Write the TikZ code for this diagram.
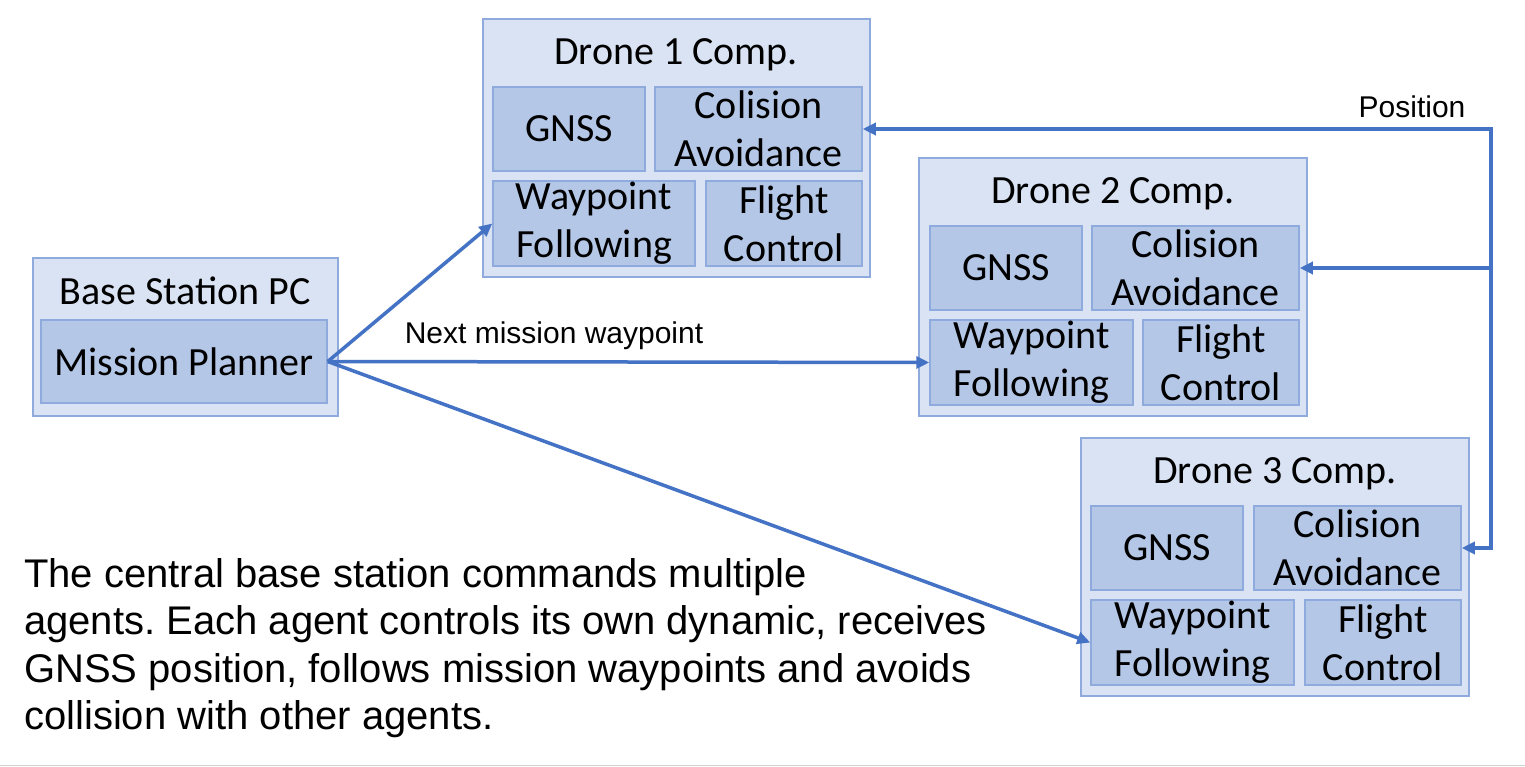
\documentclass[tikz,border=0pt]{standalone}
\usepackage{fontspec}
\setmainfont{Carlito}
\newfontfamily\arial{Liberation Sans}
\usetikzlibrary{arrows.meta,calc}
\definecolor{outerfill}{HTML}{DAE3F3}
\definecolor{innerfill}{HTML}{B4C7E7}
\definecolor{boxline}{HTML}{8FAADC}
\definecolor{arrblue}{HTML}{4472C4}
\tikzset{
  outerbox/.style={draw=boxline,fill=outerfill,line width=1.5pt,inner sep=0pt},
  innerbox/.style={draw=boxline,fill=innerfill,line width=1.5pt,inner sep=0pt,
     align=center,font=\fontsize{40}{48}\selectfont},
  titletext/.style={font=\fontsize{40}{48}\selectfont,inner sep=0pt},
  labeltext/.style={font=\arial\fontsize{30}{36}\selectfont,inner sep=0pt},
  conn/.style={draw=arrblue,line width=3.5pt},
  arr/.style={conn,-{Triangle[length=13pt,width=12pt]}},
}
% \bx{name}{x1}{y1}{x2}{y2}{style}{text}
\newcommand{\bx}[7]{%
  \node[#6,minimum width={(#4-#2)*1pt},minimum height={(#5-#3)*1pt}]
    (#1) at ({(#2+#4)/2},{(#3+#5)/2}) {#7};}
\begin{document}
\begin{tikzpicture}[x=1pt,y=-1pt]
\useasboundingbox (0,0) rectangle (1525,767);
\fill[white] (0,0) rectangle (1525,767);
\draw[black!18,line width=1.5pt] (0,765.5) -- (1525,765.5);

% Base station
\bx{bs}{33}{258}{338}{416}{outerbox}{}
\node[titletext] (bst) at (185,291) {Base Station PC};
\bx{mp}{41}{320}{327}{403}{innerbox}{Mission Planner}

% Drone 1
\bx{d1}{483}{19}{870}{277}{outerbox}{}
\node[titletext] (d1t) at (676,55) {Drone 1 Comp.};
\bx{d1g}{493}{87}{645}{171}{innerbox}{GNSS}
\bx{d1ca}{655}{87}{862}{171}{innerbox}{Colision\\Avoidance}
\bx{d1wf}{493}{181}{695}{266}{innerbox}{Waypoint\\Following}
\bx{d1fc}{706}{181}{862}{266}{innerbox}{Flight\\Control}

% Drone 2
\bx{d2}{919}{158}{1307}{416}{outerbox}{}
\node[titletext] (d2t) at (1113,194) {Drone 2 Comp.};
\bx{d2g}{930}{226}{1082}{310}{innerbox}{GNSS}
\bx{d2ca}{1092}{226}{1299}{310}{innerbox}{Colision\\Avoidance}
\bx{d2wf}{930}{320}{1133}{405}{innerbox}{Waypoint\\Following}
\bx{d2fc}{1143}{320}{1299}{405}{innerbox}{Flight\\Control}

% Drone 3
\bx{d3}{1081}{438}{1469}{696}{outerbox}{}
\node[titletext] (d3t) at (1275,474) {Drone 3 Comp.};
\bx{d3g}{1091}{506}{1243}{590}{innerbox}{GNSS}
\bx{d3ca}{1254}{506}{1461}{590}{innerbox}{Colision\\Avoidance}
\bx{d3wf}{1091}{600}{1294}{685}{innerbox}{Waypoint\\Following}
\bx{d3fc}{1305}{600}{1461}{685}{innerbox}{Flight\\Control}

% mission waypoint arrows
\draw[arr] (mp.east) -- (d1wf.west);
\draw[arr] (mp.east) -- (d2wf.west);
\draw[arr] (mp.east) -- (d3wf.west);
\node[labeltext] (nmw) at (554,336) {Next mission waypoint};

% position bus
\coordinate (bus) at (1491,129);
\draw[conn,{Triangle[length=13pt,width=12pt]}-{Triangle[length=13pt,width=12pt]}]
  (d3ca.east) -- (bus |- d3ca.east) -- (bus) -- (d1ca.east);
\draw[arr] (bus |- d2ca.east) -- (d2ca.east);
\node[labeltext] (pos) at (1412,107) {Position};

% description
\node[font=\arial\fontsize{40}{47.5}\selectfont,align=left,anchor=north west,inner sep=0pt]
  (desc) at (24,558) {The central base station commands multiple\\
agents.\ Each agent controls its own dynamic, receives\\
GNSS position, follows mission waypoints and avoids\\
collision with other agents.};
\end{tikzpicture}
\end{document}
